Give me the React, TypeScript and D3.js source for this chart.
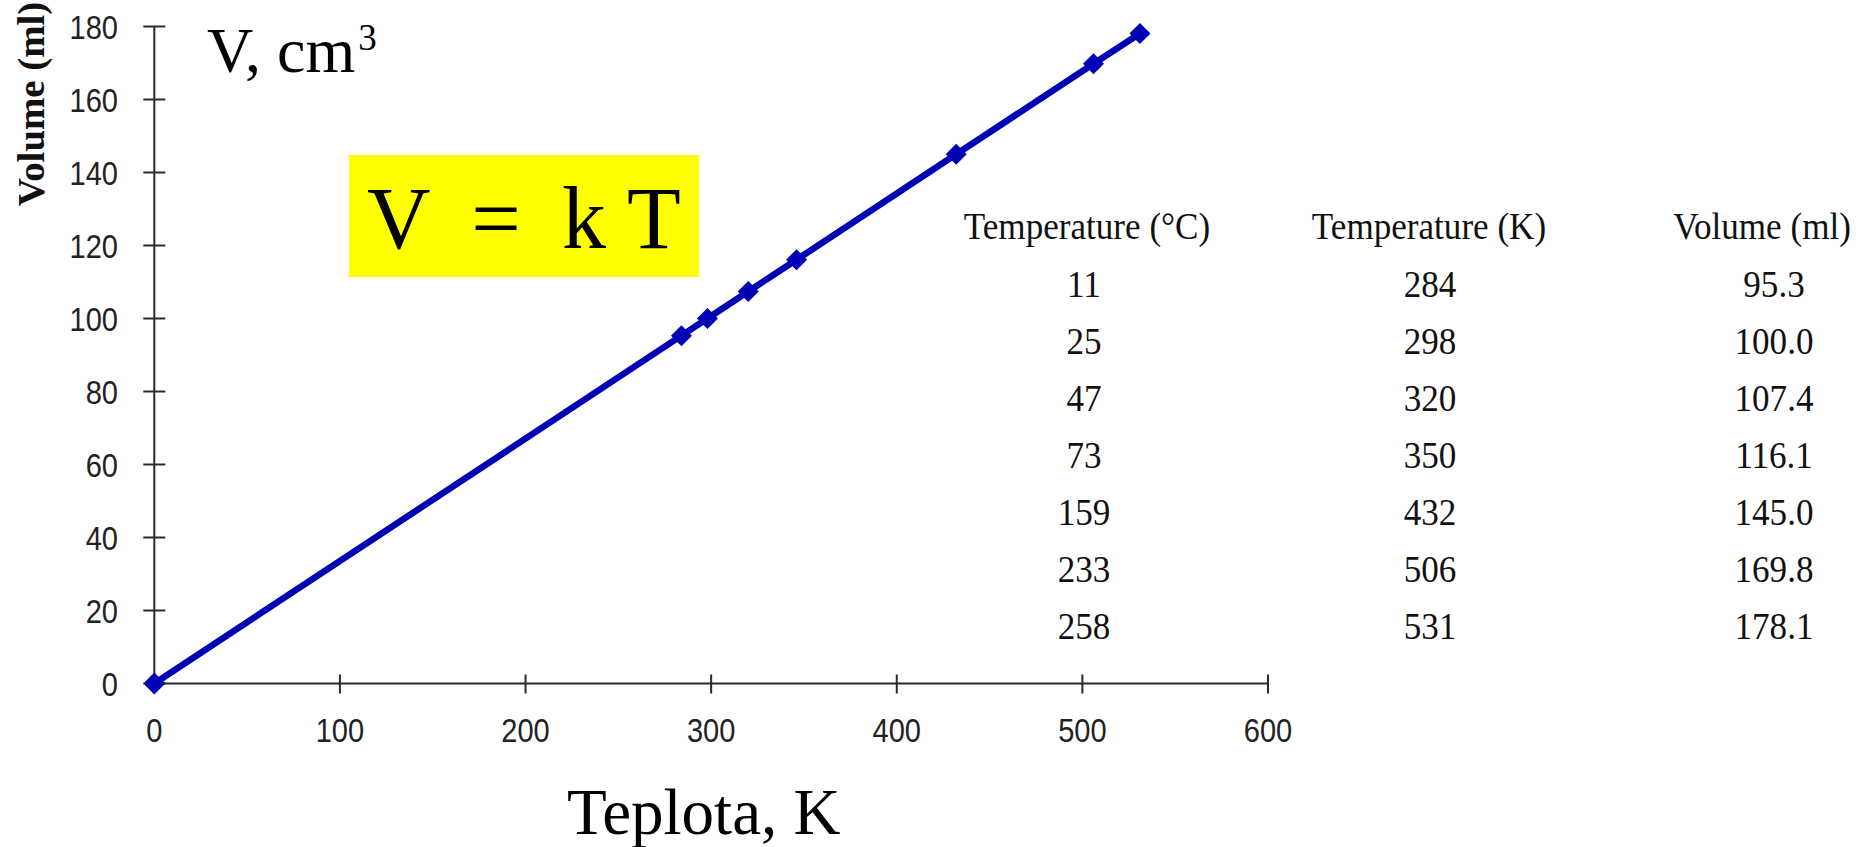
import * as d3 from "d3";

// table values (as printed on the slide)
const tempCelsius = [11, 25, 47, 73, 159, 233, 258];
const tempKelvin = [284, 298, 320, 350, 432, 506, 531];
const volumeMl = [95.3, 100.0, 107.4, 116.1, 145.0, 169.8, 178.1];
const tableHeaders = ["Temperature (°C)", "Temperature (K)", "Volume (ml)"];

// plotted series (origin + measured points, 73 °C drawn at 346 K)
const plotK = [0, 284, 298, 320, 346, 432, 506, 531];
const plotV = [0, 95.3, 100.0, 107.4, 116.1, 145.0, 169.8, 178.1];

const xTicks = [0, 100, 200, 300, 400, 500, 600];
const yTicks = [0, 20, 40, 60, 80, 100, 120, 140, 160, 180];

const W = 1871;
const H = 847;
const sans = "'Liberation Sans', Arial, sans-serif";
const serif = "'Liberation Serif', 'Times New Roman', serif";
const blue = "#0000b4";

export default function App() {
  const x = d3.scaleLinear().domain([0, 600]).range([154.3, 1268]);
  const y = d3.scaleLinear().domain([0, 180]).range([683.5, 26.5]);

  const points = plotK.map((k, i) => [k, plotV[i]] as [number, number]);
  const line = d3
    .line<[number, number]>()
    .x((d) => x(d[0]))
    .y((d) => y(d[1]));

  const diamond = (cx: number, cy: number, r: number) =>
    `M${cx},${cy - r}L${cx + r},${cy}L${cx},${cy + r}L${cx - r},${cy}Z`;

  // table columns: header centre, value centre
  const colHead = [1087, 1429, 1762];
  const colVal = [1084, 1430, 1774];
  const rowY = d3.scaleLinear().domain([0, 6]).range([297, 639]);
  const columns = [tempCelsius.map(String), tempKelvin.map(String), volumeMl.map((v) => v.toFixed(1))];

  return (
    <svg
      width={W}
      height={H}
      style={{ position: "absolute", left: 0, top: 0, background: "#fff" }}
    >
      {/* axes */}
      <line x1={x(0)} x2={x(0)} y1={y(180)} y2={y(0)} stroke="#2a2a2a" strokeWidth={2} />
      <line x1={x(0)} x2={x(600)} y1={y(0)} y2={y(0)} stroke="#2a2a2a" strokeWidth={2} />
      {yTicks.map((t) => (
        <g key={`y${t}`}>
          <line x1={x(0) - 11} x2={x(0) + 11} y1={y(t)} y2={y(t)} stroke="#2a2a2a" strokeWidth={2} />
          <text
            transform={`translate(118,${y(t) + 12}) scale(0.88,1)`}
            textAnchor="end"
            fontFamily={sans}
            fontSize={33}
            fill="#222"
          >
            {t}
          </text>
        </g>
      ))}
      {xTicks.map((t) => (
        <g key={`x${t}`}>
          <line x1={x(t)} x2={x(t)} y1={y(0) - 9} y2={y(0) + 10} stroke="#2a2a2a" strokeWidth={2} />
          <text
            transform={`translate(${x(t)},742) scale(0.88,1)`}
            textAnchor="middle"
            fontFamily={sans}
            fontSize={33}
            fill="#222"
          >
            {t}
          </text>
        </g>
      ))}

      {/* series */}
      <path d={line(points) ?? ""} fill="none" stroke={blue} strokeWidth={6.5} strokeLinejoin="round" />
      {points.map((d, i) => (
        <path key={i} d={diamond(x(d[0]), y(d[1]), i === 0 ? 11 : 10.5)} fill={blue} />
      ))}

      {/* axis titles */}
      <text
        transform="translate(44,104) rotate(-90) scale(1.05,1)"
        textAnchor="middle"
        fontFamily={serif}
        fontWeight="bold"
        fontSize={37}
        fill="#111"
      >
        Volume (ml)
      </text>
      <text x={207} y={72} fontFamily={serif} fontSize={64} fill="#000">
        V, cm
        <tspan dx={3} dy={-22} fontSize={37}>
          3
        </tspan>
      </text>
      <text x={567} y={834} fontFamily={serif} fontSize={65} fill="#000">
        Teplota, K
      </text>

      {/* V = kT box */}
      <rect x={349} y={155} width={350} height={122} fill="#ffff00" />
      <g fontFamily={serif} fontSize={88} fill="#000">
        <text x={367} y={248}>V</text>
        <text x={496} y={248} textAnchor="middle">=</text>
        <text x={562} y={248}>k</text>
        <text x={627} y={248}>T</text>
      </g>

      {/* data table */}
      <g fontFamily={serif} fontSize={39} fill="#111" textAnchor="middle">
        {tableHeaders.map((h, i) => (
          <text key={h} transform={`translate(${colHead[i]},239) scale(0.9,1)`}>
            {h}
          </text>
        ))}
        {columns.map((col, c) =>
          col.map((v, r) => (
            <text key={`${c}-${r}`} transform={`translate(${colVal[c]},${rowY(r)}) scale(0.9,1)`}>
              {v}
            </text>
          ))
        )}
      </g>
    </svg>
  );
}
